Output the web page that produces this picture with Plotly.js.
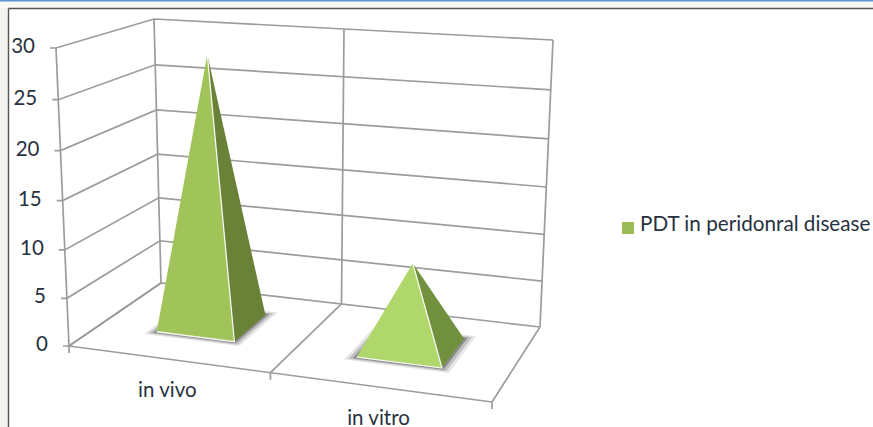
<!DOCTYPE html>
<html>
<head>
<meta charset="utf-8">
<script src="https://cdn.plot.ly/plotly-3.0.1.min.js"></script>
<style>html,body{margin:0;padding:0;background:#fff;overflow:hidden}#c{width:873px;height:427px}</style>
</head>
<body>
<div id="c"></div>
<script>
const categories = ["in vivo", "in vitro"];
const seriesName = "PDT in peridonral disease";
const values = [28.5, 9];
const valueTicks = [0, 5, 10, 15, 20, 25, 30];
const valueMax = 30;

const frontColors = ["#a0c35a", "#b0d76b"];
const sideColors = ["#6a8237", "#72913f"];
const legendColor = "#9bbb59";
const gridColor = "#9c9c9c";
const textColor = "#28323f";

// Projected box corners of the oblique 3D plot area, in image pixels.
const floorCorners = {FL:[69,346], FR:[492,402], BL:[161,283], BR:[540,327]};
const topCorners = {FL:[56,48], FR:[505,92], BL:[154,19], BR:[553,40]};
const warp = (t,k) => t/(1+k*(1-t));
const mix = (a,b,t) => [a[0]+(b[0]-a[0])*t, a[1]+(b[1]-a[1])*t];
function project(w,d,v){
  const wp = warp(w,0.1), h = warp(v/valueMax,0.05);
  const q = c => mix(mix(c.FL,c.BL,d), mix(c.FR,c.BR,d), wp);
  return mix(q(floorCorners), q(topCorners), h);
}
const path = pts => ({x:pts.map(p=>p[0]), y:pts.map(p=>p[1])});
const traces = [];
function line(pts,width){
  traces.push({...path(pts),type:"scatter",mode:"lines",line:{color:gridColor,width:width||1.7},hoverinfo:"skip",showlegend:false});
}
// walls
valueTicks.forEach(v=>{
  const a = project(0,0,v), b = project(0,1,v), c = project(1,1,v);
  line([[a[0]-6,a[1]],a,b,c]);
});
[[0,0],[0,1],[0.5,1],[1,1]].forEach(([w,d])=>line([project(w,d,0),project(w,d,valueMax)]));
// floor
[0,0.5,1].forEach(w=>{
  const a = project(w,0,0), b = project(w,1,0);
  line([[a[0],a[1]+7],a,b]);
});
line([project(0,0,0),project(1,0,0)]);

// pyramids
const halfW = 0.1, d0 = 0.34, d1 = 0.74;
function poly(pts,fill,lineColor,lw){
  traces.push({...path(pts.concat([pts[0]])),type:"scatter",mode:"lines",fill:"toself",fillcolor:fill,
    line:{color:lineColor||"rgba(0,0,0,0)",width:lw||0},hoverinfo:"skip",showlegend:false});
}
values.forEach((val,i)=>{
  const c = (i+0.5)/categories.length;
  const l = c-halfW, r = c+halfW;
  [[0.022,0.05,0.14],[0.014,0.034,0.24],[0.006,0.018,0.42]].forEach(([ew,ed,o])=>{
    poly([project(l-ew,d0-ed,0),project(r+ew,d0-ed,0),project(r+ew,d1+ed,0),project(l-ew,d1+ed,0)],`rgba(70,70,70,${o})`);
  });
  const apex = project(c,(d0+d1)/2,val);
  const fl = project(l,d0,0), fr = project(r,d0,0), br = project(r,d1,0);
  poly([fr,br,apex],sideColors[i]);
  poly([fl,fr,apex],frontColors[i]);
  traces.push({...path([fl,fr,apex]),type:"scatter",mode:"lines",line:{color:"rgba(255,255,255,0.9)",width:1.3},hoverinfo:"skip",showlegend:false});
});

// value labels
traces.push({
  x:valueTicks.map(v=>project(0,0,v)[0]-21),
  y:valueTicks.map(v=>project(0,0,v)[1]),
  text:valueTicks.map(String),type:"scatter",mode:"text",textposition:"middle left",
  textfont:{family:"Lato",size:20.5,color:textColor},hoverinfo:"skip",showlegend:false
});
// category labels
traces.push({
  x:categories.map((_,i)=>project((i+0.5)/categories.length,0,0)[0]),
  y:categories.map((_,i)=>project((i+0.5)/categories.length,0,0)[1]+32.5),
  text:categories,type:"scatter",mode:"text",textposition:"middle center",
  textfont:{family:"Lato",size:20.5,color:textColor},hoverinfo:"skip",showlegend:false
});
// legend entry
traces.push({x:[628],y:[228],name:seriesName,type:"scatter",mode:"markers",
  marker:{symbol:"square",size:12,color:legendColor},hoverinfo:"skip",showlegend:false});
traces.push({x:[640],y:[226],text:[seriesName],type:"scatter",mode:"text",
  textposition:"middle right",textfont:{family:"Lato",size:20.7,color:textColor},hoverinfo:"skip",showlegend:false});

const layout = {
  width:873,height:427,margin:{l:0,r:0,t:0,b:0},showlegend:false,
  paper_bgcolor:"#ffffff",plot_bgcolor:"rgba(0,0,0,0)",
  xaxis:{range:[0,873],visible:false,fixedrange:true},
  yaxis:{range:[427,0],visible:false,fixedrange:true},
  shapes:[
    {type:"rect",xref:"x",yref:"y",x0:0,x1:8,y0:0,y1:427,fillcolor:"#f2f3ee",line:{width:0},layer:"below"},
    {type:"rect",xref:"x",yref:"y",x0:0,x1:873,y0:0,y1:8,fillcolor:"#f7f8f4",line:{width:0},layer:"below"},
    {type:"rect",xref:"x",yref:"y",x0:0,x1:873,y0:0,y1:1.5,fillcolor:"#5b93d8",line:{width:0},layer:"below"},
    {type:"line",xref:"x",yref:"y",x0:8.5,x1:873,y0:8.5,y1:8.5,line:{color:"#555555",width:1.4},layer:"below"},
    {type:"line",xref:"x",yref:"y",x0:8.5,x1:8.5,y0:8.5,y1:427,line:{color:"#555555",width:1.4},layer:"below"}
  ]
};
Plotly.newPlot("c",traces,layout,{displayModeBar:false,staticPlot:true});
</script>
</body>
</html>
